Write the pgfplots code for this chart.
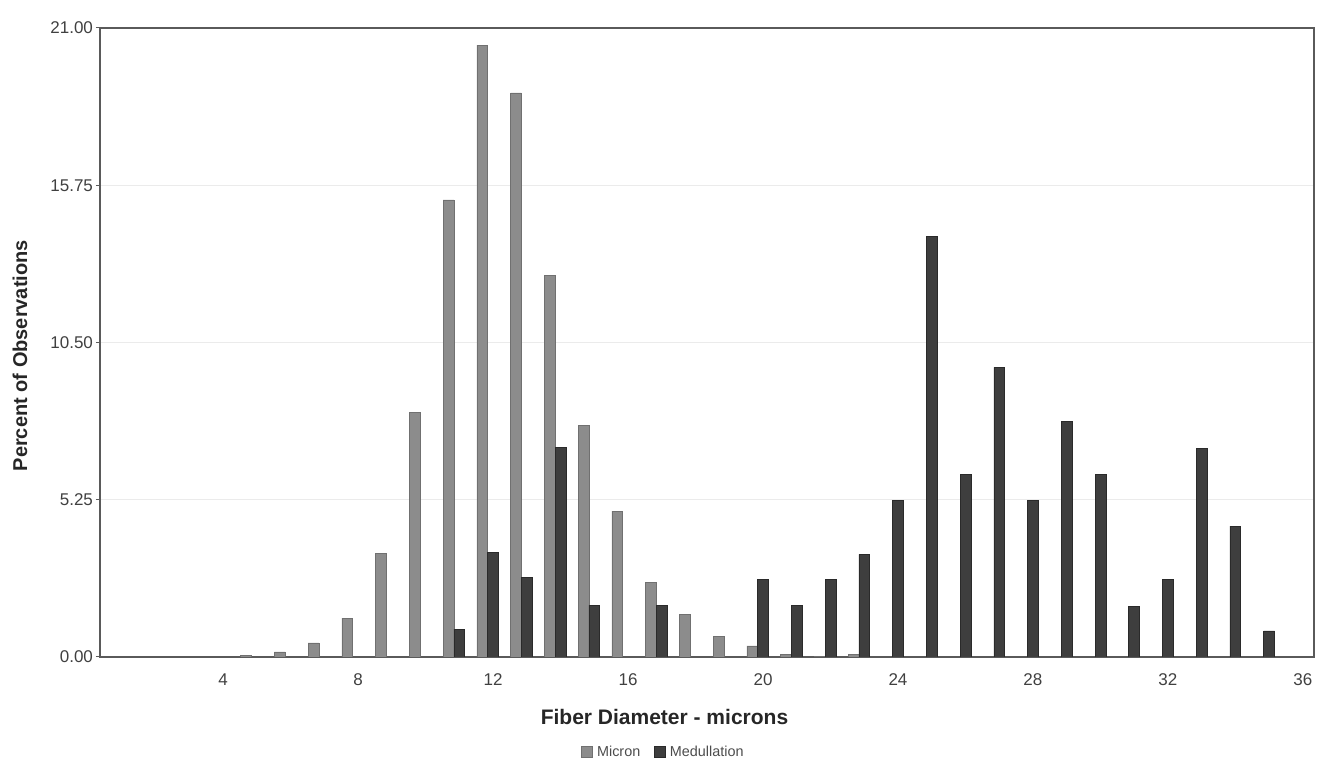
\documentclass[border=0pt]{standalone}
\usepackage{pgfplots}
\pgfplotsset{compat=1.18}
\usepackage{fontspec}
\setmainfont{Liberation Sans}

\definecolor{micron}{HTML}{8C8C8C}
\definecolor{micronedge}{HTML}{707070}
\definecolor{medul}{HTML}{3E3E3E}
\definecolor{meduledge}{HTML}{2A2A2A}
\definecolor{frame}{HTML}{5A5A5A}

\pgfplotsset{sqlegend/.style={legend image code/.code={\fill[##1] (0pt,-2.2pt) rectangle (5.5pt,3.3pt);}}}

\begin{document}
\begin{tikzpicture}
\begin{axis}[
    scale only axis,
    width=607pt, height=314.5pt,
    xmin=0.35, xmax=36.33,
    ymin=0, ymax=21,
    axis line style={frame, line width=0.6pt},
    xtick={4,8,...,36},
    ytick={0,5.25,10.5,15.75,21},
    yticklabels={0.00,5.25,10.50,15.75,21.00},
    xticklabels={4,8,12,16,20,24,28,32,36},
    tick label style={font=\fontsize{8.5}{10}\selectfont, text=black!75},
    yticklabel style={xshift=2pt},
    xticklabel style={yshift=-3pt},
    x tick style={draw=none},
    y tick style={frame, line width=0.5pt},
    tick align=outside,
    major tick length=2pt,
    xtick pos=bottom, ytick pos=left,
    ymajorgrids=true,
    grid style={black!8, line width=0.5pt},
    xlabel={Fiber Diameter - microns},
    xlabel style={font=\fontsize{10.5}{12}\selectfont\bfseries, text=black!85,
        at={(rel axis cs:0.465,0)}, anchor=center, yshift=-30pt},
    legend style={at={(rel axis cs:0.465,0)}, anchor=center, yshift=-48pt,
        draw=none, fill=none, font=\fontsize{7.2}{8}\selectfont,
        text=black!70, legend columns=-1,
        /tikz/every even column/.append style={column sep=5pt},
        inner sep=0pt},
    ybar, bar width=0.32,
]
\coordinate (bl) at (rel axis cs:0,0);
\coordinate (tr) at (rel axis cs:1,1);
\coordinate (yl) at (rel axis cs:0,0.479);

% Micron
\addplot[fill=micron, draw=micronedge, line width=0.3pt, bar shift=-0.32, sqlegend]
    coordinates {
    (5,0.05)(6,0.17)(7,0.47)(8,1.3)(9,3.47)(10,8.17)(11,15.26)(12,20.43)
    (13,18.83)(14,12.75)(15,7.73)(16,4.87)(17,2.5)(18,1.43)(19,0.7)
    (20,0.37)(21,0.1)(22,0.03)(23,0.1) };

% Medullation
\addplot[fill=medul, draw=meduledge, line width=0.3pt, bar shift=0, sqlegend]
    coordinates {
    (11,0.93)(12,3.5)(13,2.67)(14,7.0)(15,1.73)(17,1.73)(20,2.6)(21,1.73)
    (22,2.6)(23,3.43)(24,5.23)(25,14.03)(26,6.1)(27,9.67)(28,5.23)(29,7.87)
    (30,6.1)(31,1.7)(32,2.6)(33,6.97)(34,4.37)(35,0.87) };

\legend{Micron,Medullation}
\end{axis}
\node[rotate=90, anchor=center, text=black!85,
      font=\fontsize{10}{12}\selectfont\bfseries] at ([xshift=-40pt]yl)
      {Percent of Observations};
\pgfresetboundingbox
\path[use as bounding box] ([xshift=-50pt,yshift=-51pt]bl) rectangle ([xshift=6.5pt,yshift=14pt]tr);
\end{tikzpicture}
\end{document}
